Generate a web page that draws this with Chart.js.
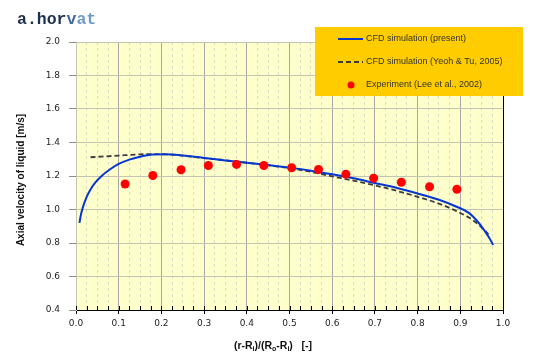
<!DOCTYPE html>
<html>
<head>
<meta charset="utf-8">
<script src="https://cdn.jsdelivr.net/npm/chart.js@4"></script>
<style>
  html, body { margin: 0; padding: 0; background: #fff; }
  #wrap { width: 560px; height: 363px; position: relative; }
</style>
</head>
<body>
<div id="wrap"><canvas id="chart"></canvas></div>
<script>
// CFD simulation (present) – solid blue curve
const presentX = [0.008, 0.012, 0.017, 0.025, 0.033, 0.045, 0.06, 0.08, 0.10, 0.125, 0.15, 0.18, 0.21, 0.25, 0.30, 0.35, 0.40, 0.45, 0.50, 0.55, 0.60, 0.65, 0.70, 0.75, 0.80, 0.85, 0.89, 0.92, 0.94, 0.955, 0.968, 0.977];
const presentY = [0.92, 0.975, 1.02, 1.075, 1.115, 1.16, 1.20, 1.24, 1.272, 1.298, 1.315, 1.328, 1.33, 1.323, 1.308, 1.293, 1.279, 1.265, 1.25, 1.232, 1.21, 1.186, 1.158, 1.13, 1.096, 1.058, 1.018, 0.98, 0.93, 0.88, 0.83, 0.788];

// CFD simulation (Yeoh & Tu, 2005) – dashed curve
const yeohX = [0.034, 0.06, 0.10, 0.15, 0.18, 0.21, 0.25, 0.30, 0.35, 0.40, 0.45, 0.50, 0.55, 0.60, 0.65, 0.70, 0.75, 0.80, 0.85, 0.89, 0.92, 0.945, 0.966];
const yeohY = [1.312, 1.316, 1.322, 1.329, 1.331, 1.329, 1.322, 1.307, 1.294, 1.279, 1.264, 1.247, 1.225, 1.198, 1.172, 1.144, 1.112, 1.076, 1.035, 0.992, 0.952, 0.905, 0.852];

// Experiment (Lee et al., 2002) – red dots
const expX = [0.115, 0.18, 0.246, 0.31, 0.376, 0.44, 0.505, 0.568, 0.632, 0.697, 0.762, 0.828, 0.892];
const expY = [1.152, 1.203, 1.237, 1.263, 1.269, 1.263, 1.249, 1.239, 1.211, 1.187, 1.163, 1.136, 1.121];

const seriesLabels = ['CFD simulation (present)', 'CFD simulation (Yeoh & Tu, 2005)', 'Experiment (Lee et al., 2002)'];

const pts = (xs, ys) => xs.map((x, i) => ({ x, y: ys[i] }));
const isMajor = v => Math.abs(v * 10 - Math.round(v * 10)) < 1e-6;

/* plot area background, borders, inward minor ticks, titles, legend */
const frame = {
  id: 'frame',
  beforeDraw(chart) {
    const { ctx, chartArea: a } = chart;
    ctx.save();
    ctx.fillStyle = '#ffffcc';
    ctx.fillRect(a.left, a.top, a.right - a.left, a.bottom - a.top);
    ctx.restore();
  },
  afterDraw(chart) {
    const { ctx, chartArea: a, scales } = chart;
    ctx.save();
    ctx.strokeStyle = '#000';
    ctx.lineWidth = 1;
    ctx.beginPath();
    ctx.moveTo(a.right + 0.5, a.top);
    ctx.lineTo(a.right + 0.5, a.bottom);
    scales.x.ticks.forEach(t => {
      const px = Math.round(scales.x.getPixelForValue(t.value)) + 0.5;
      ctx.moveTo(px, a.bottom);
      ctx.lineTo(px, a.bottom - 4);
    });
    ctx.stroke();

    // title
    ctx.textBaseline = 'middle';
    ctx.font = 'bold 16.5px "Liberation Mono", monospace';
    let x = 17;
    [['a.hor', '#1d2f4e'], ['v', '#44679a'], ['at', '#6d98d0']].forEach(([s, c]) => {
      ctx.fillStyle = c;
      ctx.fillText(s, x, 20);
      x += ctx.measureText(s).width;
    });

    // y axis title
    ctx.save();
    ctx.translate(21, 180);
    ctx.rotate(-Math.PI / 2);
    ctx.textAlign = 'center';
    ctx.fillStyle = '#111';
    ctx.font = 'bold 10px "Liberation Sans", Arial, sans-serif';
    ctx.fillText('Axial velocity of liquid [m/s]', 0, 0);
    ctx.restore();

    // x axis title with subscripts
    const parts = [['(r-R', 0], ['i', 1], [')/(R', 0], ['o', 1], ['-R', 0], ['i', 1], [')   [-]', 0]];
    const big = 'bold 10.5px "Liberation Sans", Arial, sans-serif';
    const small = 'bold 7px "Liberation Sans", Arial, sans-serif';
    let w = 0;
    parts.forEach(([s, sub]) => { ctx.font = sub ? small : big; w += ctx.measureText(s).width; });
    x = 273 - w / 2;
    ctx.fillStyle = '#111';
    parts.forEach(([s, sub]) => {
      ctx.font = sub ? small : big;
      ctx.fillText(s, x, sub ? 349 : 346);
      x += ctx.measureText(s).width;
    });

    // legend
    ctx.fillStyle = '#ffcc00';
    ctx.fillRect(315, 27, 208, 69);
    const ds = chart.data.datasets;
    const rowY = [39, 62, 85];
    ctx.font = '9px "Liberation Sans", Arial, sans-serif';
    ds.forEach((d, i) => {
      const y = rowY[i];
      if (d.showLine) {
        ctx.strokeStyle = d.borderColor;
        ctx.lineWidth = d.borderWidth;
        ctx.setLineDash(d.borderDash || []);
        ctx.beginPath();
        ctx.moveTo(338, y);
        ctx.lineTo(363, y);
        ctx.stroke();
        ctx.setLineDash([]);
      } else {
        ctx.fillStyle = d.backgroundColor;
        ctx.beginPath();
        ctx.arc(351, y, 3.5, 0, Math.PI * 2);
        ctx.fill();
      }
      ctx.fillStyle = '#333';
      ctx.fillText(d.label, 366, y);
    });
    ctx.restore();
  }
};

new Chart(document.getElementById('chart'), {
  type: 'scatter',
  data: {
    datasets: [
      {
        label: seriesLabels[0],
        data: pts(presentX, presentY),
        showLine: true,
        borderColor: '#0636d0',
        backgroundColor: '#0636d0',
        borderWidth: 2,
        pointRadius: 0,
        cubicInterpolationMode: 'monotone',
        order: 2
      },
      {
        label: seriesLabels[1],
        data: pts(yeohX, yeohY),
        showLine: true,
        borderColor: '#3c3c3c',
        backgroundColor: '#3c3c3c',
        borderWidth: 1.8,
        borderDash: [5, 3],
        pointRadius: 0,
        cubicInterpolationMode: 'monotone',
        order: 3
      },
      {
        label: seriesLabels[2],
        data: pts(expX, expY),
        showLine: false,
        backgroundColor: '#ff0000',
        borderColor: '#ff0000',
        pointRadius: 4.5,
        pointBorderWidth: 0,
        order: 1
      }
    ]
  },
  options: {
    responsive: true,
    maintainAspectRatio: false,
    animation: false,
    layout: { padding: { left: 0, top: 42, right: 57, bottom: 0 } },
    plugins: { legend: { display: false }, tooltip: { enabled: false } },
    scales: {
      x: {
        type: 'linear',
        min: 0, max: 1,
        afterFit: s => { s.height = 53; },
        ticks: {
          stepSize: 0.025,
          autoSkip: false,
          maxRotation: 0,
          padding: 4,
          color: '#222',
          font: { family: '"DejaVu Sans", sans-serif', size: 9 },
          callback: v => isMajor(v) ? v.toFixed(1) : ''
        },
        grid: {
          color: c => c.tick && isMajor(c.tick.value) ? '#a8a8a8' : '#dcdcc8',
          tickColor: c => c.tick && isMajor(c.tick.value) ? '#000' : 'rgba(0,0,0,0)',
          tickLength: 4
        },
        border: {
          color: '#000',
          width: 1,
          dash: c => c.tick && !isMajor(c.tick.value) ? [3, 3] : []
        }
      },
      y: {
        min: 0.4, max: 2.0,
        afterFit: s => { s.width = 76; },
        ticks: {
          stepSize: 0.2,
          padding: 9,
          color: '#222',
          font: { family: '"DejaVu Sans", sans-serif', size: 9 },
          callback: v => v.toFixed(1)
        },
        grid: { color: '#c4c4b4', tickColor: '#8c8c8c', tickLength: 7 },
        border: { color: '#c4c4b4' }
      }
    }
  },
  plugins: [frame]
});
</script>
</body>
</html>
